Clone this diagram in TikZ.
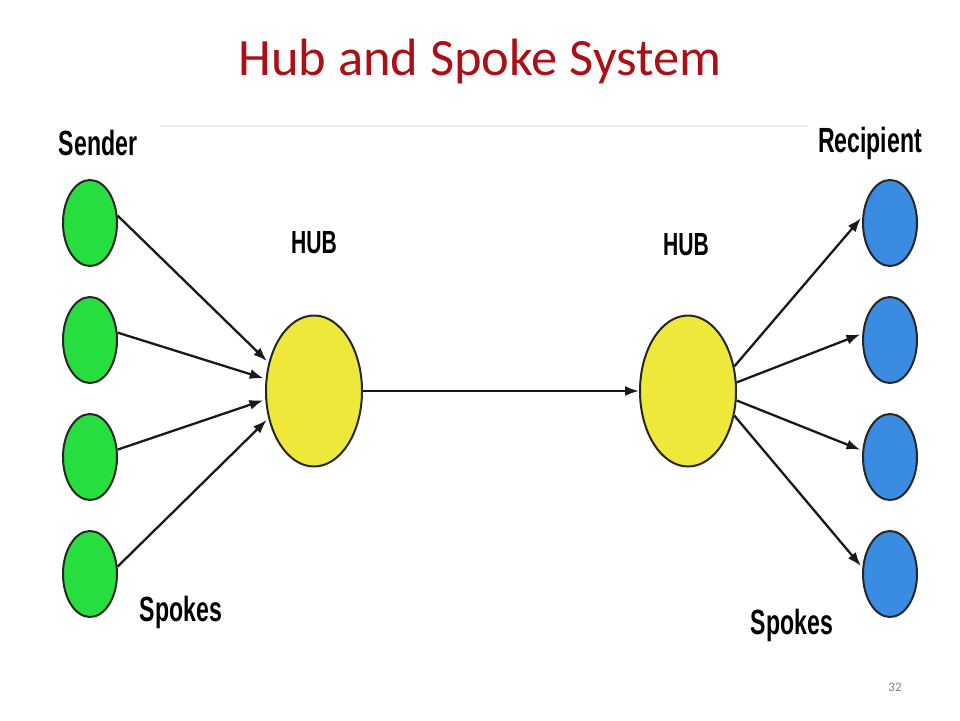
\documentclass[tikz,border=0pt]{standalone}
\usepackage{fontspec}
\usetikzlibrary{shapes.geometric,arrows.meta}
\newfontfamily\titlefont{Carlito}
\newfontfamily\labelfont[FakeStretch=0.66]{Liberation Sans Bold}
\definecolor{ctitle}{RGB}{172,16,22}
\definecolor{cgreen}{RGB}{38,222,62}
\definecolor{cblue}{RGB}{58,140,226}
\definecolor{cyellow}{RGB}{238,232,58}
\tikzset{spokenode/.style={ellipse,draw=black!85,line width=2pt,minimum width=54pt,minimum height=86pt,inner sep=0pt},
         hubnode/.style={ellipse,draw=black!85,fill=cyellow,line width=2pt,minimum width=96pt,minimum height=151pt,inner sep=0pt},
         spoke/.style={line width=2.3pt,black!90,-{Latex[length=14pt,width=10pt]},shorten >=2pt},
         lbl/.style={font=\labelfont\fontsize{35}{40}\selectfont}}

\begin{document}
\begin{tikzpicture}[x=1pt,y=-1pt]
    \useasboundingbox[fill=white] (0,0) rectangle (960,720);
    \node[text=ctitle,font=\titlefont\fontsize{52.5}{60}\selectfont] (title) at (480,62) {Hub and Spoke System};
    \draw[black!8,line width=1.2pt] (160,126) -- (808,126);   % faint frame line
    % senders and recipients
    \foreach \i/\y in {1/223,2/340,3/457,4/574} {
      \node[spokenode,fill=cgreen] (g\i) at (90,\y) {};
      \node[spokenode,fill=cblue]  (b\i) at (890,\y) {};
    }
    \node[hubnode] (hubL) at (314,391) {};
    \node[hubnode] (hubR) at (688,391) {};
    % spokes
    \foreach \i/\a in {1/148,2/166,3/190,4/211} \draw[spoke] (g\i.15) -- (hubL.\a);
    \foreach \i/\a in {1/28,2/10,3/-11,4/-28} \draw[spoke] (hubR.\a) -- (b\i.167);
    \draw[spoke,shorten >=0pt] (hubL.east) -- (hubR.west);
    % labels
    \node[lbl] (sender) at (98,143) {Sender};
    \node[lbl] (recip) at (870,143) {Recipient};
    \node[lbl,font=\labelfont\fontsize{32}{36}\selectfont] (hubLlbl) at (314,243) {HUB};
    \node[lbl,font=\labelfont\fontsize{32}{36}\selectfont] (hubRlbl) at (686,245) {HUB};
    \node[lbl] (spokesL) at (181,612) {Spokes};
    \node[lbl] (spokesR) at (792,625) {Spokes};
    \node[gray,font=\titlefont\fontsize{13}{15}\selectfont] (pagenum) at (895,687) {32};
  \end{tikzpicture}
\end{document}
